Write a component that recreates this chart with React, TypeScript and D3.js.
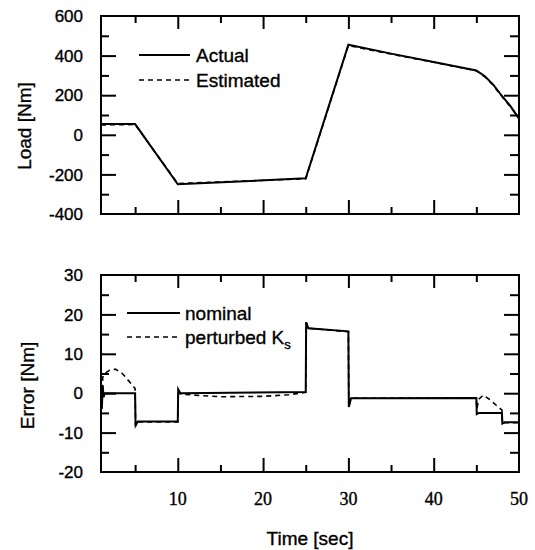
import React, { useEffect, useRef } from "react";
import * as d3 from "d3";

// ---- data ----
const loadTime = [1, 5, 10, 25, 30, 35, 40, 45, 46, 47, 48, 49, 50];
const loadActual = [54, 54, -250, -220, 455, 410, 368, 325, 296, 252, 196, 145, 82];
const loadEstimated = [50, 52, -246, -222, 451, 408, 366, 323, 293, 249, 193, 141, 86];

const errTimeNominal = [1.0, 1.1, 1.2, 1.3, 1.45, 5.0, 5.05, 5.3, 10.0, 10.05, 10.3, 25.0, 25.05, 25.3, 30.0, 30.05, 30.3, 45.0, 45.05, 45.3, 48.0, 48.05, 48.3, 50];
const errNominal = [-1, -4, 2, -1, 0, 0, -8.3, -7.2, -7.2, 1, 0, 0.3, 18, 16.5, 15.7, -3.5, -1.3, -1.2, -5.3, -5, -5, -7.7, -7.4, -7.4];

const errTimePerturbed = [1.0, 1.1, 1.2, 1.4, 2.0, 2.7, 3.5, 4.3, 5.0, 5.05, 5.3, 10.0, 10.05, 10.3, 12, 15, 20, 23, 25, 25.05, 25.3, 30, 30.05, 30.3, 45, 45.05, 45.3, 45.8, 46.5, 47.3, 48.0, 48.05, 48.3, 50];
const errPerturbed = [0, -3, 4, 5, 5.8, 6.1, 5, 3, 1.2, -8.3, -7.3, -7.3, 0.8, -0.2, -0.5, -0.9, -0.8, -0.4, 0.2, 18, 16.5, 15.6, -3.5, -1.3, -1.2, -4, -1.5, -0.5, -1.5, -3, -4.3, -7.7, -7.5, -7.5];

const timeTicks = [10, 20, 30, 40, 50];
const timeMinorTicks = [5, 15, 25, 35, 45];
const loadTicks = [600, 400, 200, 0, -200, -400];
const loadMinorTicks = [500, 300, 100, -100, -300];
const errorTicks = [30, 20, 10, 0, -10, -20];
const errorMinorTicks = [25, 15, 5, -5, -15];

const SANS = "'Liberation Sans', Arial, sans-serif";
const SERIF = "'Liberation Serif', 'Times New Roman', serif";

const L = 101, R = 519;
const x = d3.scaleLinear().domain([1, 50]).range([L, R]);
const yTop = d3.scaleLinear().domain([-400, 600]).range([214, 16]);
const yBot = d3.scaleLinear().domain([-20, 30]).range([472, 275]);

const textStyle = { stroke: "#000", strokeWidth: 0.35 };

function drawTicks(g: d3.Selection<SVGGElement, unknown, null, undefined>, y: d3.ScaleLinear<number, number>, major: number[], minor: number[]) {
  const r = y.range();
  const top = Math.min(r[0], r[1]);
  const bot = Math.max(r[0], r[1]);
  const inner = major.filter((v) => y(v) > top + 1 && y(v) < bot - 1);
  const xm = timeTicks.filter((t) => x(t) < R - 1);
  const style = (s: d3.Selection<SVGGElement, unknown, null, undefined>) => {
    s.select(".domain").remove();
    s.selectAll("text").remove();
    s.selectAll("line").attr("stroke", "#000").attr("stroke-width", 2);
  };
  g.append("g").attr("transform", `translate(0,${top})`).call(d3.axisTop(x).tickValues(xm).tickSizeInner(-13).tickSizeOuter(0)).call(style);
  g.append("g").attr("transform", `translate(0,${top})`).call(d3.axisTop(x).tickValues(timeMinorTicks).tickSizeInner(-7).tickSizeOuter(0)).call(style);
  g.append("g").attr("transform", `translate(0,${bot})`).call(d3.axisBottom(x).tickValues(xm).tickSizeInner(-14).tickSizeOuter(0)).call(style);
  g.append("g").attr("transform", `translate(0,${bot})`).call(d3.axisBottom(x).tickValues(timeMinorTicks).tickSizeInner(-7).tickSizeOuter(0)).call(style);
  g.append("g").attr("transform", `translate(${L},0)`).call(d3.axisLeft(y).tickValues(inner).tickSizeInner(-15).tickSizeOuter(0)).call(style);
  g.append("g").attr("transform", `translate(${L},0)`).call(d3.axisLeft(y).tickValues(minor).tickSizeInner(-8).tickSizeOuter(0)).call(style);
  g.append("g").attr("transform", `translate(${R},0)`).call(d3.axisRight(y).tickValues(inner).tickSizeInner(-15).tickSizeOuter(0)).call(style);
  g.append("g").attr("transform", `translate(${R},0)`).call(d3.axisRight(y).tickValues(minor).tickSizeInner(-9).tickSizeOuter(0)).call(style);
}

export default function App() {
  const ticksRef = useRef<SVGGElement | null>(null);

  useEffect(() => {
    if (!ticksRef.current) return;
    const g = d3.select(ticksRef.current);
    g.selectAll("*").remove();
    drawTicks(g as any, yTop, loadTicks, loadMinorTicks);
    drawTicks(g as any, yBot, errorTicks, errorMinorTicks);
  }, []);

  const actualPath = d3.line<number>().x((_, i) => x(loadTime[i])).y((d) => yTop(d))(loadActual) || "";
  const estPath = d3.line<number>().x((_, i) => x(loadTime[i])).y((d) => yTop(d))(loadEstimated) || "";
  const nomPath = d3.line<number>().x((_, i) => x(errTimeNominal[i])).y((d) => yBot(d))(errNominal) || "";
  const pertPath = d3.line<number>().x((_, i) => x(errTimePerturbed[i])).y((d) => yBot(d))(errPerturbed) || "";

  return (
    <svg width={535} height={550} style={{ position: "absolute", left: 0, top: 0 }}>
      <rect width={535} height={550} fill="#fff" />
      {/* top plot */}
      <rect x={L} y={16} width={R - L} height={214 - 16} fill="none" stroke="black" strokeWidth={2} />
      <path d={estPath} fill="none" stroke="black" strokeWidth={1.6} strokeDasharray="5,4" />
      <path d={actualPath} fill="none" stroke="black" strokeWidth={2} />
      <g fontFamily={SANS} fontSize={17} textAnchor="end" fill="#000" style={textStyle}>
        {loadTicks.map((t) => (
          <text key={t} x={83} y={yTop(t)} dy="0.36em">{t}</text>
        ))}
      </g>
      <text transform={`translate(31,${(16 + 214) / 2 + 11}) rotate(-90)`} textAnchor="middle" fontFamily={SANS} fontSize={19} style={textStyle}>Load [Nm]</text>
      <line x1={139} x2={190} y1={55} y2={55} stroke="black" strokeWidth={2} />
      <text x={196} y={62} fontFamily={SANS} fontSize={19} style={textStyle}>Actual</text>
      <line x1={139} x2={190} y1={80} y2={80} stroke="black" strokeWidth={1.6} strokeDasharray="5,4" />
      <text x={196} y={87} fontFamily={SANS} fontSize={19} style={textStyle}>Estimated</text>

      {/* bottom plot */}
      <rect x={L} y={275} width={R - L} height={472 - 275} fill="none" stroke="black" strokeWidth={2} />
      <path d={pertPath} fill="none" stroke="black" strokeWidth={1.6} strokeDasharray="5,4" />
      <path d={nomPath} fill="none" stroke="black" strokeWidth={2} />
      <g fontFamily={SANS} fontSize={17} textAnchor="end" fill="#000" style={textStyle}>
        {errorTicks.map((t) => (
          <text key={t} x={83} y={yBot(t)} dy="0.36em">{t}</text>
        ))}
      </g>
      <g fontFamily={SERIF} fontSize={18} textAnchor="middle" fill="#000" style={textStyle}>
        {timeTicks.map((t) => (
          <text key={t} x={x(t)} y={505}>{t}</text>
        ))}
      </g>
      <text transform={`translate(34,${(275 + 472) / 2 + 12}) rotate(-90)`} textAnchor="middle" fontFamily={SANS} fontSize={19} style={textStyle}>Error [Nm]</text>
      <text x={(L + R) / 2} y={545} textAnchor="middle" fontFamily={SANS} fontSize={19} style={textStyle}>Time [sec]</text>
      <line x1={127} x2={180} y1={313} y2={313} stroke="black" strokeWidth={2} />
      <text x={185} y={320} fontFamily={SANS} fontSize={19} style={textStyle}>nominal</text>
      <line x1={127} x2={180} y1={337} y2={337} stroke="black" strokeWidth={1.6} strokeDasharray="5,4" />
      <text x={185} y={344} fontFamily={SANS} fontSize={19} style={textStyle}>
        perturbed K<tspan fontSize={13} dy={5}>s</tspan>
      </text>

      {/* inward tick marks via d3 axes */}
      <g ref={ticksRef} />
    </svg>
  );
}
